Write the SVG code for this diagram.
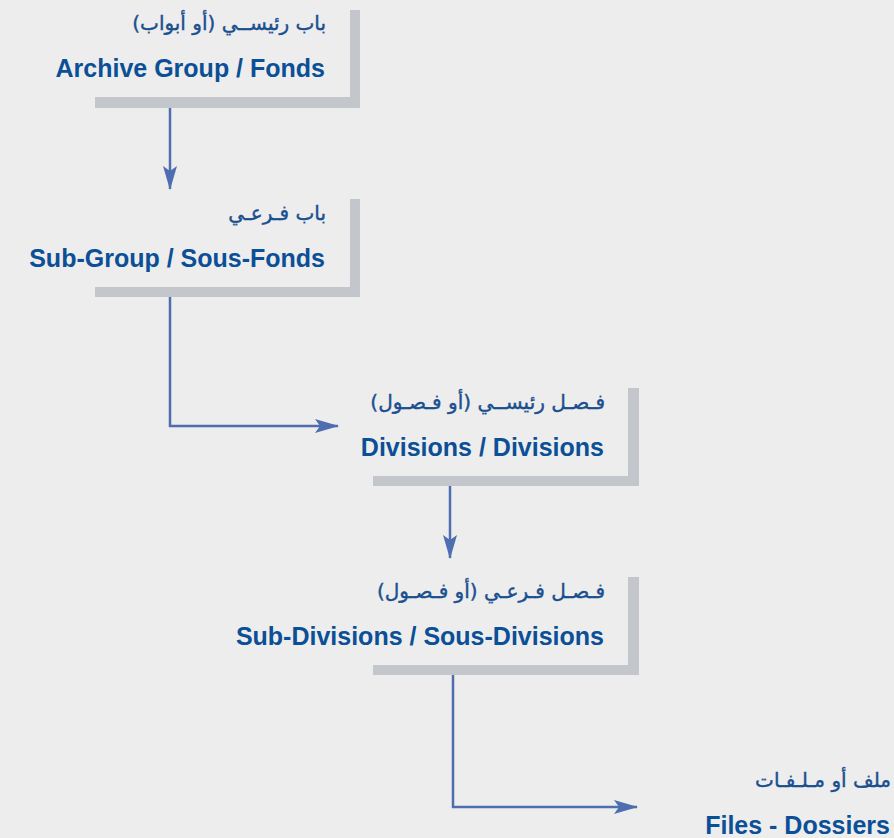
<svg xmlns="http://www.w3.org/2000/svg" width="894" height="838" viewBox="0 0 894 838">
<style>
.bg{fill:#ededed}
.sh{fill:#c3c6cb}
.ar{font-family:"DejaVu Sans",sans-serif;font-size:20px;fill:#1a4f8f;stroke:#1a4f8f;stroke-width:0.4;text-anchor:end}
.en{font-family:"Liberation Sans",Arial,sans-serif;font-size:25px;font-weight:bold;fill:#0b4f96;text-anchor:end}
.cn{fill:none;stroke:#4f6eb0;stroke-width:2.5}
</style>
<defs>
<marker id="ah" markerUnits="userSpaceOnUse" markerWidth="26" markerHeight="16" refX="23" refY="7" orient="auto" viewBox="0 0 26 16">
<path d="M0,0 L24,7 L0,14 L5,7 z" fill="#4f6eb0"/>
</marker>
</defs>
<rect class="bg" x="0" y="0" width="894" height="838"/>
<g id="connectors">
<path class="cn" d="M170,108 V189" marker-end="url(#ah)"/>
<path class="cn" d="M170,297 V426 H338" marker-end="url(#ah)"/>
<path class="cn" d="M450,486 V558" marker-end="url(#ah)"/>
<path class="cn" d="M453,675 V807 H637" marker-end="url(#ah)"/>
</g>
<g id="node1">
<rect class="sh" x="350" y="10" width="10" height="98"/>
<rect class="sh" x="95" y="97" width="265" height="11"/>
<text class="ar" x="326" y="30">&#x200F;باب رئيســي (أو أبواب)&#x200F;</text>
<text class="en" x="325" y="77">Archive Group / Fonds</text>
</g>
<g id="node2">
<rect class="sh" x="350" y="199" width="10" height="98"/>
<rect class="sh" x="95" y="287" width="265" height="10"/>
<text class="ar" x="326" y="220">&#x200F;باب فـرعـي&#x200F;</text>
<text class="en" x="325" y="267">Sub-Group / Sous-Fonds</text>
</g>
<g id="node3">
<rect class="sh" x="628" y="388" width="11" height="98"/>
<rect class="sh" x="373" y="476" width="266" height="10"/>
<text class="ar" x="605" y="409">&#x200F;فـصـل رئيســي (أو فـصـول)&#x200F;</text>
<text class="en" x="604" y="456">Divisions / Divisions</text>
</g>
<g id="node4">
<rect class="sh" x="628" y="577" width="11" height="98"/>
<rect class="sh" x="373" y="665" width="266" height="10"/>
<text class="ar" x="605" y="598">&#x200F;فـصـل فـرعـي (أو فـصـول)&#x200F;</text>
<text class="en" x="604" y="645">Sub-Divisions / Sous-Divisions</text>
</g>
<g id="node5">
<text class="ar" x="891" y="787">&#x200F;ملف أو مـلـفـات&#x200F;</text>
<text class="en" x="890" y="834">Files - Dossiers</text>
</g>
</svg>
